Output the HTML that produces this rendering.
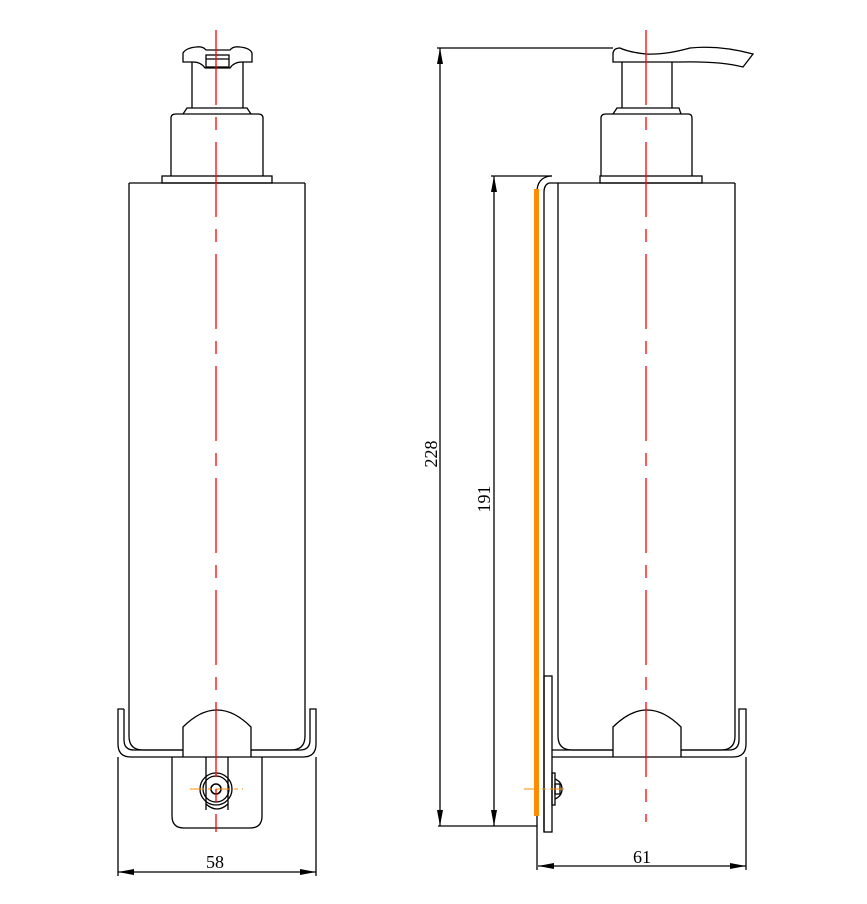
<!DOCTYPE html>
<html><head><meta charset="utf-8"><style>html,body{margin:0;padding:0;background:#fff}svg{display:block}</style></head>
<body>
<svg width="867" height="904" viewBox="0 0 867 904" xmlns="http://www.w3.org/2000/svg" font-family="Liberation Serif, serif">
<defs>
<marker id="ar" viewBox="0 0 16 6" refX="16" refY="3" markerWidth="16" markerHeight="6" markerUnits="userSpaceOnUse" orient="auto-start-reverse"><path d="M0,0 L16,3 L0,6 Z" fill="#000"/></marker>
</defs>
<g fill="none" stroke="#000" stroke-width="1.3">
<!-- LEFT VIEW -->
<path d="M183,62 L183,53 Q186,48 196,47 Q203,46 206,50 L230,50 Q233,46 240,47 Q250,48 252,53 L252,62 L242,62 Q234,62 230,68 L205,68 Q201,62 193,62 Z"/>
<rect x="206" y="55" width="23" height="12"/>
<line x1="206" y1="59" x2="229" y2="59"/>
<path d="M192,62 V108 M243,62 V108"/>
<path d="M183,114 L187,108 L247,108 L251,114"/>
<path d="M171,176 V118 Q171,114 176,114 H258 Q263,114 263,118 V176"/>
<rect x="162" y="176" width="110" height="7"/>
<path d="M129,183 V736 Q129,750 143,750 H183"/>
<path d="M251,750 H291 Q305,750 305,736 V183"/>
<line x1="129" y1="183" x2="305" y2="183"/>
<path d="M124,709 H118 V744 Q118,757 131,757 H303 Q316,757 316,744 V709 H310 V740 Q310,750 300,750 H251"/>
<path d="M183,750 H134 Q124,750 124,740 V709"/>
<path d="M183,757 V727 Q200,710 217,710 Q234,710 251,727 V757"/>
<path d="M172,757 V816 Q172,828 184,828 H250 Q262,828 262,816 V757"/>
<path d="M206,757 V810 M228,757 V810"/>
<path d="M206,804 Q217,814 228,804"/>
<circle cx="216" cy="789" r="16"/>
<circle cx="216" cy="789" r="13"/>
<circle cx="216" cy="789" r="5" stroke-width="1.6"/>
<path d="M118,757 V876 M316,757 V876"/>
<line x1="118" y1="872" x2="316" y2="872" marker-start="url(#ar)" marker-end="url(#ar)"/>

<!-- RIGHT VIEW -->
<path d="M613,62 V53 Q614,48 620,48 Q628,52 646,54 Q665,55 690,48 Q720,45 753,54 L743,67 Q720,61 680,62 Z"/>
<path d="M622,62 V108 M672,62 V108"/>
<path d="M613,114 L617,108 L679,108 L681,114"/>
<path d="M601,176 V118 Q601,114 606,114 H688 Q692,114 692,118 V176"/>
<rect x="600" y="176" width="102" height="7"/>
<path d="M558,183 V736 Q558,750 572,750 H613"/>
<path d="M681,750 H721 Q735,750 735,736 V183"/>
<line x1="549" y1="183" x2="735" y2="183"/>
<!-- wall bracket -->
<path d="M552,176 H550 Q537,178 537,192 V870"/>
<path d="M549,183 Q544,185 544,192 V832"/>
<rect x="544" y="676" width="8" height="156"/>
<path d="M552,750 H613 M681,750 H729 Q739,750 739,740 V709 H746 V744 Q746,757 733,757 H552"/>
<path d="M613,757 V727 Q630,710 647,710 Q664,710 681,727 V757"/>
<rect x="552" y="773" width="3" height="32"/>
<rect x="555" y="784" width="5" height="10"/>
<path d="M555,779 Q562,782 562,789 Q562,796 555,799"/>
<!-- dims -->
<path d="M437,48 H613 M491,176 H552 M438,826 H537"/>
<line x1="440" y1="48" x2="440" y2="826" marker-start="url(#ar)" marker-end="url(#ar)"/>
<line x1="494" y1="176" x2="494" y2="826" marker-start="url(#ar)" marker-end="url(#ar)"/>
<path d="M746,757 V870"/>
<line x1="538" y1="866" x2="746" y2="866" marker-start="url(#ar)" marker-end="url(#ar)"/>
</g>
<rect x="534" y="189" width="5" height="627" fill="#ff8c00"/>
<g stroke="#ff8c00" stroke-width="1" stroke-dasharray="14 4 4 4">
<line x1="190" y1="789" x2="243" y2="789"/>
<line x1="524" y1="789" x2="566" y2="789"/>
</g>
<g stroke="#f00" stroke-width="1.3" stroke-dasharray="75 12 13 12">
<line x1="216" y1="30" x2="216" y2="832"/>
<line x1="646" y1="30" x2="646" y2="822"/>
</g>
<g font-size="18" fill="#000" text-anchor="middle">
<text x="215" y="868">58</text>
<text x="642" y="863">61</text>
<text transform="translate(437,454) rotate(-90)">228</text>
<text transform="translate(490,499) rotate(-90)">191</text>
</g>
</svg>
</body></html>
